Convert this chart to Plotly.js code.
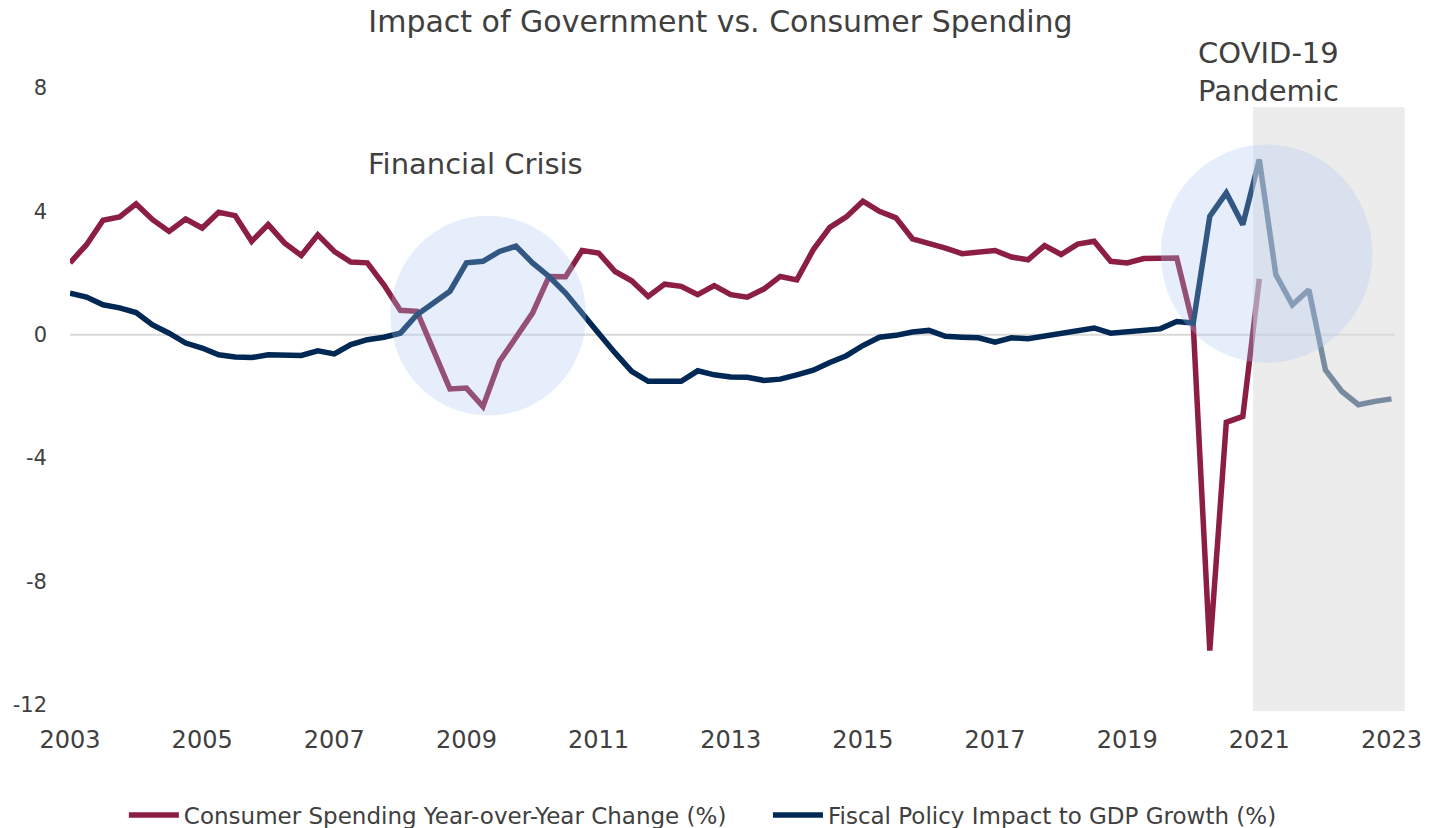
<!DOCTYPE html>
<html>
<head>
<meta charset="utf-8">
<script src="https://cdn.plot.ly/plotly-3.0.1.min.js"></script>
<style>
  html, body { margin: 0; padding: 0; background: #ffffff; }
  #chart { width: 1441px; height: 828px; }
</style>
</head>
<body>
<div id="chart"></div>
<script>
// Quarterly data, first quarter 2003 Q1
const startYear = 2003;

const consumerSpending = [
  2.33, 2.92, 3.71, 3.82,
  4.24, 3.73, 3.35, 3.75,
  3.46, 3.97, 3.86, 3.03,
  3.57, 2.97, 2.57, 3.24,
  2.70, 2.36, 2.33, 1.62,
  0.79, 0.76, -0.50, -1.76,
  -1.73, -2.33, -0.87, -0.05,
  0.70, 1.89, 1.88, 2.73,
  2.65, 2.05, 1.75, 1.24,
  1.64, 1.57, 1.30, 1.59,
  1.30, 1.22, 1.48, 1.89,
  1.78, 2.76, 3.48, 3.82,
  4.33, 4.00, 3.79, 3.11,
  2.98, 2.81, 2.63, 2.70,
  2.73, 2.52, 2.43, 2.89,
  2.60, 2.94, 3.03, 2.38,
  2.33, 2.47, 2.49, 2.49,
  0.30, -10.24, -2.84, -2.65,
  1.81
];

const fiscalImpact = [
  1.35, 1.22, 0.97, 0.87,
  0.72, 0.32, 0.05, -0.27,
  -0.43, -0.65, -0.72, -0.74,
  -0.65, -0.66, -0.67, -0.52,
  -0.62, -0.32, -0.16, -0.08,
  0.05, 0.65, 1.03, 1.41,
  2.33, 2.38, 2.70, 2.87,
  2.33, 1.89, 1.35, 0.73,
  0.05, -0.59, -1.19, -1.51,
  -1.51, -1.51, -1.17, -1.30,
  -1.37, -1.38, -1.48, -1.44,
  -1.30, -1.15, -0.90, -0.68,
  -0.35, -0.08, -0.02, 0.09,
  0.14, -0.05, -0.08, -0.10,
  -0.24, -0.10, -0.13, -0.05,
  0.02, 0.13, 0.22, 0.05,
  0.11, 0.14, 0.19, 0.43,
  0.38, 3.84, 4.60, 3.57,
  5.68, 1.95, 0.97, 1.46,
  -1.14, -1.84, -2.27, -2.16,
  -2.08
];

const seriesNames = [
  "Consumer Spending Year-over-Year Change (%)",
  "Fiscal Policy Impact to GDP Growth (%)"
];
const xTickVals = [2003, 2005, 2007, 2009, 2011, 2013, 2015, 2017, 2019, 2021, 2023];
const yTickVals = [8, 4, 0, -4, -8, -12];
const annotationsText = ["Financial Crisis", "COVID-19<br>Pandemic"];
const chartTitle = "Impact of Government vs. Consumer Spending";

const quarterX = (arr) => arr.map((_, i) => startYear + i * 0.25);

const FONT = "'DejaVu Sans', sans-serif";
const TXT = "#404040";
const GAP = "\u00a0\u00a0\u00a0\u00a0\u00a0";

const traces = [
  {
    x: quarterX(consumerSpending), y: consumerSpending,
    name: seriesNames[0] + GAP, type: "scatter", mode: "lines",
    line: { color: "#8b1e41", width: 5.5 }
  },
  {
    x: quarterX(fiscalImpact), y: fiscalImpact,
    name: seriesNames[1], type: "scatter", mode: "lines",
    line: { color: "#002855", width: 5.5 }
  }
];

const layout = {
  width: 1441, height: 828,
  paper_bgcolor: "#ffffff", plot_bgcolor: "#ffffff",
  margin: { l: 70, r: 33, t: 88, b: 117, autoexpand: false },
  font: { family: FONT, color: TXT, size: 21 },
  title: {
    text: chartTitle,
    font: { family: FONT, size: 30, color: TXT },
    x: 0.5, xref: "container", xanchor: "center",
    y: 0.974, yref: "container", yanchor: "middle"
  },
  showlegend: true,
  legend: {
    orientation: "h", x: 0.473, xanchor: "center",
    y: -0.167, yanchor: "middle",
    font: { family: FONT, size: 23, color: TXT },
    itemwidth: 50
  },
  xaxis: {
    range: [2003, 2023.25],
    tickvals: xTickVals, ticktext: xTickVals.map(String),
    showgrid: false, zeroline: false, showline: false,
    ticks: "", ticklabelstandoff: 12,
    tickfont: { family: FONT, size: 24, color: TXT }
  },
  yaxis: {
    range: [-12.2, 8],
    tickvals: yTickVals, ticktext: yTickVals.map(String),
    showgrid: false, showline: false, zeroline: false,
    ticks: "", ticklabelstandoff: 22,
    tickfont: { family: FONT, size: 21, color: TXT }
  },
  shapes: [
    {
      type: "line", xref: "x", yref: "y", layer: "below",
      x0: 2003, x1: 2023.05, y0: 0, y1: 0,
      line: { color: "#d9d9d9", width: 2 }
    },
    {
      type: "rect", xref: "x", yref: "y", layer: "above",
      x0: 2020.906, x1: 2023.197, y0: -12.2, y1: 7.38,
      fillcolor: "rgba(220,220,220,0.55)", line: { width: 0 }
    },
    {
      type: "circle", xref: "x", yref: "y", layer: "above",
      x0: 2009.33 - 1.48, x1: 2009.33 + 1.48, y0: 0.62 - 3.24, y1: 0.62 + 3.24,
      fillcolor: "rgba(170,200,240,0.30)", line: { width: 0 }
    },
    {
      type: "circle", xref: "x", yref: "y", layer: "above",
      x0: 2021.11 - 1.60, x1: 2021.11 + 1.60, y0: 2.63 - 3.54, y1: 2.63 + 3.54,
      fillcolor: "rgba(170,200,240,0.30)", line: { width: 0 }
    }
  ],
  annotations: [
    {
      text: annotationsText[0], xref: "x", yref: "y",
      x: 2009.13, y: 5.52, showarrow: false,
      font: { family: FONT, size: 29, color: TXT }
    },
    {
      text: annotationsText[1], xref: "x", yref: "paper",
      x: 2021.14, y: 1.0257, yanchor: "middle", showarrow: false,
      font: { family: FONT, size: 29, color: TXT }
    }
  ]
};

Plotly.newPlot("chart", traces, layout, { displayModeBar: false, responsive: false });
</script>
</body>
</html>
